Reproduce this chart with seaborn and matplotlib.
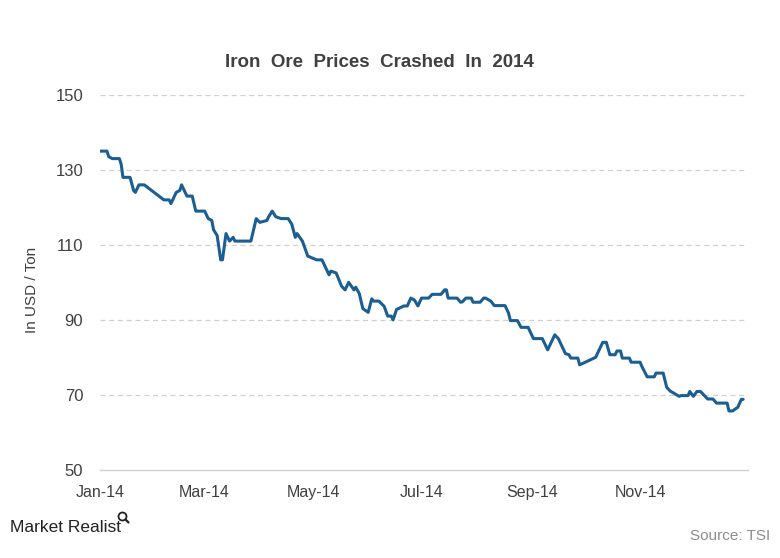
import pandas as pd
import seaborn as sns
import matplotlib.pyplot as plt
import matplotlib.dates as mdates
from matplotlib.patches import Circle
from matplotlib.lines import Line2D

# DATA
dates = [
    "2014-01-01", "2014-01-05", "2014-01-06", "2014-01-08", "2014-01-12", "2014-01-13",
    "2014-01-14", "2014-01-18", "2014-01-20", "2014-01-21", "2014-01-23", "2014-01-26",
    "2014-02-06", "2014-02-09", "2014-02-10", "2014-02-13", "2014-02-15", "2014-02-16",
    "2014-02-19", "2014-02-22", "2014-02-24", "2014-03-01", "2014-03-03", "2014-03-05",
    "2014-03-06", "2014-03-08", "2014-03-10", "2014-03-11", "2014-03-13", "2014-03-15",
    "2014-03-17", "2014-03-18", "2014-03-27", "2014-03-30", "2014-04-01", "2014-04-05",
    "2014-04-06", "2014-04-08", "2014-04-10", "2014-04-13", "2014-04-17", "2014-04-19",
    "2014-04-21", "2014-04-22", "2014-04-25", "2014-04-28", "2014-05-03", "2014-05-06",
    "2014-05-08", "2014-05-10", "2014-05-11", "2014-05-14", "2014-05-17", "2014-05-19",
    "2014-05-21", "2014-05-24", "2014-05-25", "2014-05-27", "2014-05-29", "2014-06-01",
    "2014-06-03", "2014-06-04", "2014-06-07", "2014-06-10", "2014-06-12", "2014-06-14",
    "2014-06-15", "2014-06-17", "2014-06-18", "2014-06-21", "2014-06-23", "2014-06-25",
    "2014-06-27", "2014-06-29", "2014-07-01", "2014-07-05", "2014-07-07", "2014-07-12",
    "2014-07-14", "2014-07-15", "2014-07-16", "2014-07-21", "2014-07-23", "2014-07-24",
    "2014-07-26", "2014-07-29", "2014-07-30", "2014-08-03", "2014-08-05", "2014-08-06",
    "2014-08-09", "2014-08-11", "2014-08-17", "2014-08-19", "2014-08-20", "2014-08-24",
    "2014-08-26", "2014-08-30", "2014-09-02", "2014-09-07", "2014-09-10", "2014-09-14",
    "2014-09-16", "2014-09-20", "2014-09-22", "2014-09-23", "2014-09-27", "2014-09-28",
    "2014-10-07", "2014-10-11", "2014-10-13", "2014-10-15", "2014-10-18", "2014-10-19",
    "2014-10-21", "2014-10-22", "2014-10-26", "2014-10-27", "2014-11-01", "2014-11-02",
    "2014-11-05", "2014-11-09", "2014-11-10", "2014-11-14", "2014-11-16", "2014-11-18",
    "2014-11-23", "2014-11-24", "2014-11-28", "2014-11-29", "2014-12-01", "2014-12-03",
    "2014-12-05", "2014-12-09", "2014-12-12", "2014-12-14", "2014-12-20", "2014-12-21",
    "2014-12-23", "2014-12-26", "2014-12-28", "2014-12-29",
]
prices = [
    135, 135, 133.5, 133, 133, 131.5,
    128, 128, 124.5, 124, 126, 126,
    122, 122, 121, 124, 124.5, 126,
    123, 123, 119, 119, 117, 116.5,
    114, 112.5, 106, 106, 113, 111,
    112, 111, 111, 117, 116, 116.5,
    117.5, 119, 117.5, 117, 117, 115.5,
    112, 113, 111, 107, 106, 106,
    104, 102, 103, 102.5, 99, 98,
    100, 98, 98.7, 97, 93, 92,
    95.6, 95, 95, 93.6, 91, 91,
    90, 92.8, 93, 93.7, 93.7, 95.8,
    95.3, 93.7, 95.8, 95.8, 96.8, 96.8,
    98, 98, 95.8, 95.8, 94.7, 94.8,
    95.8, 95.8, 94.7, 94.7, 95.8, 95.8,
    95, 93.8, 93.8, 91.8, 89.8, 89.8,
    88, 88, 85, 85, 82, 86,
    85, 81, 80.7, 79.8, 79.8, 78,
    80, 84, 84, 80.7, 80.7, 81.7,
    81.7, 79.8, 79.8, 78.7, 78.7, 77.6,
    74.8, 74.8, 75.8, 75.8, 72, 71,
    69.6, 69.8, 69.8, 70.9, 69.6, 70.9,
    70.9, 68.9, 68.9, 67.8, 67.8, 65.7,
    65.7, 66.7, 68.8, 68.8,
]
y_ticks = [50, 70, 90, 110, 130, 150]

df = pd.DataFrame({"date": pd.to_datetime(dates), "price": prices})

sns.set_style("white")
plt.rcParams["font.family"] = ["Liberation Sans", "DejaVu Sans"]

fig = plt.figure(figsize=(7.8, 5.58), dpi=100)
ax = fig.add_axes([0.128, 0.158, 0.831, 0.672])

sns.lineplot(data=df, x="date", y="price", ax=ax, color="#1b5e92", linewidth=2.2)

ax.set_ylim(50, 150)
ax.set_xlim(pd.Timestamp("2014-01-01"), pd.Timestamp("2014-12-31 18:00"))
ax.set_yticks(y_ticks)
ax.xaxis.set_major_locator(mdates.MonthLocator(bymonth=[1, 3, 5, 7, 9, 11]))
ax.xaxis.set_major_formatter(mdates.DateFormatter("%b-%y"))

for v in y_ticks[1:]:
    ax.axhline(v, color="#d0d0d0", linewidth=0.9, linestyle=(0, (4, 3)), zorder=0)

for s in ["top", "right", "left"]:
    ax.spines[s].set_visible(False)
ax.spines["bottom"].set_color("#d0d0d0")
ax.spines["bottom"].set_linewidth(1.0)

ax.tick_params(axis="x", colors="#d0d0d0", labelcolor="#404040", labelsize=11.5,
               length=5, width=1, direction="out", pad=6)
ax.tick_params(axis="y", labelcolor="#404040", labelsize=12, length=0, pad=12)

ax.set_xlabel("")
ax.set_ylabel("In USD / Ton", fontsize=11, color="#404040", labelpad=12, y=0.48)

fig.text(0.487, 0.888, "Iron  Ore  Prices  Crashed  In  2014", ha="center", va="center",
         fontsize=13.5, fontweight="bold", color="#404040")

# logo
fig.text(0.013, 0.055, "Market Realist", ha="left", va="center", fontsize=12.5,
         color="#222222", family=["Liberation Sans Narrow", "Liberation Sans", "DejaVu Sans"],
         stretch="condensed")
fig.add_artist(Circle((1.225, 0.415), 0.04, transform=fig.dpi_scale_trans,
                      fill=False, edgecolor="#222222", linewidth=1.3))
fig.add_artist(Line2D([1.255, 1.285], [0.385, 0.355], transform=fig.dpi_scale_trans,
                      color="#222222", linewidth=1.6))

fig.text(0.988, 0.04, "Source: TSI", ha="right", va="center", fontsize=11, color="#8c8c8c")

plt.savefig("out.png", dpi=100)
